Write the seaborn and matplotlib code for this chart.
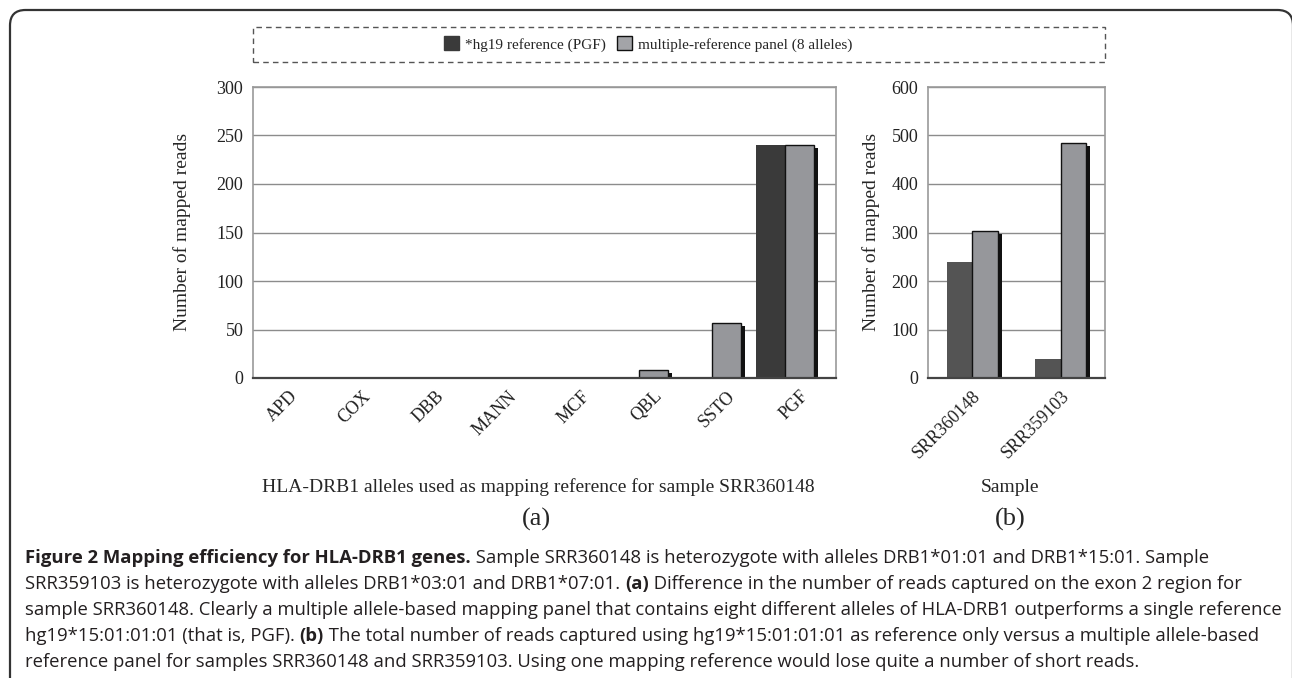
import matplotlib
matplotlib.use("Agg")
import pandas as pd
import seaborn as sns
import matplotlib.pyplot as plt
import matplotlib.patheffects as pe
from matplotlib.patches import Rectangle, FancyBboxPatch, Patch

# panel (a): reads per mapping reference, sample SRR360148
alleles = ["APD", "COX", "DBB", "MANN", "MCF", "QBL", "SSTO", "PGF"]
hg19_a = [0, 0, 0, 0, 0, 0, 0, 240]
panel_a = [0, 0, 0, 0, 0, 8, 57, 240]

# panel (b): total reads per sample
samples = ["SRR360148", "SRR359103"]
hg19_b = [240, 40]
panel_b = [303, 485]

series = ["*hg19 reference (PGF)", "multiple-reference panel (8 alleles)"]

da = pd.DataFrame({
    "x": alleles * 2,
    "reads": hg19_a + panel_a,
    "ref": [series[0]] * len(alleles) + [series[1]] * len(alleles),
})
db = pd.DataFrame({
    "x": samples * 2,
    "reads": hg19_b + panel_b,
    "ref": [series[0]] * len(samples) + [series[1]] * len(samples),
})

W, H = 1292, 678
SERIF = "Liberation Serif"
sns.set_style("white")
plt.rcParams["font.family"] = [SERIF, "DejaVu Serif"]

fig = plt.figure(figsize=(W / 100, H / 100), dpi=100)


def box(x0, y0, x1, y1):
    return [x0 / W, 1 - y1 / H, (x1 - x0) / W, (y1 - y0) / H]


def fx(x):
    return x / W


def fy(y):
    return 1 - y / H


axa = fig.add_axes(box(253, 87, 836, 378))
axb = fig.add_axes(box(928, 87, 1105, 378))

sns.barplot(data=da, x="x", y="reads", hue="ref", palette=["#3a3a3a", "#96979b"],
            width=0.8, saturation=1, errorbar=None, legend=False, ax=axa)
sns.barplot(data=db, x="x", y="reads", hue="ref", palette=["#545454", "#96979b"],
            width=0.58, saturation=1, errorbar=None, legend=False, ax=axb)

# in (a) the panel bar sits on the category centre, the hg19 bar to its left
for cont in axa.containers:
    for bar in cont:
        bar.set_x(bar.get_x() - bar.get_width() / 2)

shadow = [pe.SimplePatchShadow(offset=(2.6, -2.2), shadow_rgbFace="#111111", alpha=1),
          pe.Normal()]


def style(ax, ymax, step):
    ax.set_ylim(0, ymax)
    ax.set_yticks(range(0, ymax + 1, step))
    ax.yaxis.grid(True, color="#8c8c8c", lw=1)
    ax.set_axisbelow(True)
    ax.tick_params(length=0, labelsize=13, pad=7, colors="#222222")
    ax.set_xlabel("")
    ax.set_ylabel("")
    for s in ["top", "right", "left"]:
        ax.spines[s].set_color("#9a9a9a")
        ax.spines[s].set_linewidth(1.2)
    ax.spines["bottom"].set_color("#444444")
    ax.spines["bottom"].set_linewidth(1.6)
    plt.setp(ax.get_xticklabels(), rotation=45, ha="right", rotation_mode="anchor")
    for bar in ax.containers[0]:
        bar.set_edgecolor("none")
        bar.set_path_effects(shadow)
    for bar in ax.containers[1]:
        bar.set_edgecolor("#111111")
        bar.set_linewidth(1)
        bar.set_path_effects(shadow)


style(axa, 300, 50)
style(axb, 600, 100)

# axis texts
fig.text(fx(182), fy(232), "Number of mapped reads", rotation=90, ha="center", va="center", fontsize=14)
fig.text(fx(871), fy(232), "Number of mapped reads", rotation=90, ha="center", va="center", fontsize=14)
fig.text(fx(538), fy(487), "HLA-DRB1 alleles used as mapping reference for sample SRR360148",
         ha="center", va="center", fontsize=14)
fig.text(fx(1010), fy(487), "Sample", ha="center", va="center", fontsize=14)
fig.text(fx(536), fy(519), "(a)", ha="center", va="center", fontsize=19)
fig.text(fx(1010), fy(519), "(b)", ha="center", va="center", fontsize=19)

# legend inside a dashed box
fig.add_artist(Rectangle((fx(253), fy(62)), fx(1105) - fx(253), fy(27) - fy(62),
                         transform=fig.transFigure, fill=False, ec="#555555",
                         lw=1, ls=(0, (4, 3))))
handles = [Patch(fc="#3a3a3a", ec="#3a3a3a"), Patch(fc="#a3a4a8", ec="#111111")]
fig.legend(handles, series, loc="center", bbox_to_anchor=(fx(648), fy(44)), ncol=2,
           frameon=False, fontsize=11, handlelength=1.0, handleheight=1.0,
           handletextpad=0.4, columnspacing=0.7)

# outer frame with rounded top corners
fig.add_artist(FancyBboxPatch((fx(10), fy(700)), fx(1293) - fx(10), fy(10) - fy(700),
                              boxstyle="round,pad=0,rounding_size=0.012",
                              transform=fig.transFigure, fill=False, ec="#333333", lw=1.6,
                              mutation_aspect=W / H))

# caption with bold runs
caption = [
    [("Figure 2 Mapping efficiency for HLA-DRB1 genes.", True),
     (" Sample SRR360148 is heterozygote with alleles DRB1*01:01 and DRB1*15:01. Sample", False)],
    [("SRR359103 is heterozygote with alleles DRB1*03:01 and DRB1*07:01. ", False), ("(a)", True),
     (" Difference in the number of reads captured on the exon 2 region for", False)],
    [("sample SRR360148. Clearly a multiple allele-based mapping panel that contains eight "
      "different alleles of HLA-DRB1 outperforms a single reference", False)],
    [("hg19*15:01:01:01 (that is, PGF). ", False), ("(b)", True),
     (" The total number of reads captured using hg19*15:01:01:01 as reference only versus "
      "a multiple allele-based", False)],
    [("reference panel for samples SRR360148 and SRR359103. Using one mapping reference "
      "would lose quite a number of short reads.", False)],
]
renderer = fig.canvas.get_renderer()
for i, line in enumerate(caption):
    x = 25
    y = 558 + i * 26
    for txt, bold in line:
        t = fig.text(fx(x), fy(y), txt, ha="left", va="center", fontsize=13.3,
                     family="Open Sans", weight="bold" if bold else "normal", color="#231f20")
        x += t.get_window_extent(renderer).width

fig.savefig("out.png", dpi=100)
